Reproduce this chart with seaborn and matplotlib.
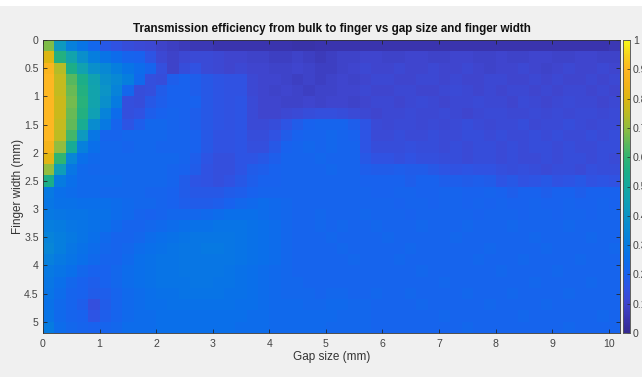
import numpy as np
import matplotlib
matplotlib.use("Agg")
import matplotlib.pyplot as plt
from matplotlib.colors import LinearSegmentedColormap
from matplotlib.patches import Rectangle
import seaborn as sns

# ---------------- data (transmission efficiency, percent) ----------------
gap_step_mm = 0.2          # width of one gap-size cell
finger_step_mm = 0.2       # height of one finger-width cell
x_ticks_mm = [0, 1, 2, 3, 4, 5, 6, 7, 8, 9, 10]
y_ticks_mm = [0, 0.5, 1, 1.5, 2, 2.5, 3, 3.5, 4, 4.5, 5]
cbar_ticks = [0, 0.1, 0.2, 0.3, 0.4, 0.5, 0.6, 0.7, 0.8, 0.9, 1]

efficiency_pct = [
    [68,42,32,27,22,17,15,13,12,11, 9,8,7,6,6,5,5,5,5,5, 5,5,4,4,5,5,5,5,5,5, 5,5,5,5,5,5,5,5,5,5, 5,5,5,5,5,5,5,5,5,5,6],
    [80,57,47,38,31,27,24,21,20,16, 11,9,11,12,12,11,10,10,9,9, 8,8,9,8,7,8,9,9,10,10, 9,9,10,10,9,9,10,10,9,9, 10,9,9,10,10,9,9,10,10,9,9],
    [88,74,55,46,38,35,31,27,24,21, 14,9,13,15,12,11,10,11,10,10, 9,9,10,9,8,8,9,10,11,10, 10,11,10,10,11,10,10,11,10,9, 10,10,11,10,9,10,11,10,10,11,10],
    [90,76,64,55,46,38,35,31,23,14, 13,19,20,19,17,16,15,15,11,10, 10,9,8,9,8,9,10,9,10,11, 11,10,10,11,11,10,11,10,10,11, 11,10,10,11,10,11,10,10,11,10,11],
    [90,76,66,57,47,40,33,22,13,14, 18,20,20,19,17,16,15,15,11,10, 9,10,9,8,9,9,10,10,11,10, 10,11,11,10,10,11,12,11,10,11, 10,11,11,10,11,10,11,11,10,11,10],
    [90,77,67,58,47,38,30,14,13,17, 19,20,20,20,17,16,15,16,12,10, 10,9,9,10,9,10,10,9,10,11, 11,10,11,12,11,10,11,11,12,11, 11,10,12,11,10,11,12,11,11,10,11],
    [90,77,66,57,45,33,24,14,15,19, 20,21,20,19,17,16,15,16,12,10, 10,11,12,13,14,14,13,12,11,10, 11,11,12,11,11,12,11,10,11,12, 12,11,11,12,11,12,11,12,12,11,12],
    [90,76,65,53,37,29,21,16,19,22, 22,21,20,19,17,16,15,16,12,12, 13,16,18,20,21,21,21,19,16,12, 11,12,12,11,12,11,12,13,12,11, 12,12,13,11,12,12,13,12,11,12,12],
    [90,75,62,42,28,21,21,22,22,22, 22,21,21,20,17,15,15,16,13,13, 15,18,20,21,21,22,21,20,16,12, 12,13,12,12,13,12,12,13,13,12, 13,12,12,13,12,13,12,12,13,12,13],
    [86,70,52,32,25,22,22,21,22,22, 21,21,21,20,17,15,15,16,14,14, 17,20,21,22,21,22,21,21,16,13, 13,13,14,13,13,12,13,12,13,13, 12,13,12,13,13,12,13,12,12,13,13],
    [81,60,34,25,23,22,22,22,22,22, 22,22,21,19,16,14,14,16,16,17, 19,21,21,21,22,21,21,21,17,15, 15,14,15,14,14,13,13,12,13,13, 12,13,12,12,13,12,13,13,12,13,12],
    [70,44,28,23,22,22,22,22,22,22, 22,21,20,18,15,14,14,16,18,19, 20,21,21,21,21,22,21,21,19,18, 18,19,18,18,17,16,15,16,15,15, 14,13,14,13,12,13,13,12,14,13,13],
    [55,30,25,23,23,23,23,22,22,22, 22,21,18,16,15,14,15,17,19,20, 20,21,21,21,21,21,21,21,20,20, 20,20,19,20,20,19,19,18,19,18, 16,17,15,16,17,15,16,17,15,16,15],
    [29,25,24,23,23,22,22,22,22,21, 21,20,18,17,17,17,18,19,20,21, 21,21,21,21,21,21,21,21,21,20, 20,21,21,20,20,21,21,20,20,21, 20,19,20,20,19,20,20,19,20,20,20],
    [28,26,26,25,25,25,24,23,22,22, 21,20,19,18,18,19,20,22,23,24, 23,22,21,21,21,21,21,21,21,21, 21,20,21,21,20,21,21,20,21,20, 21,20,20,21,20,20,21,20,20,21,20],
    [29,28,27,27,26,26,24,23,21,20, 21,22,22,22,23,24,25,25,25,24, 23,22,21,21,22,21,21,21,22,21, 21,21,20,21,21,21,21,21,20,21, 21,21,20,21,21,20,21,21,20,21,21],
    [31,30,28,27,26,25,23,21,21,22, 23,24,25,26,26,27,27,27,26,25, 24,22,21,21,22,21,22,21,21,22, 21,21,21,22,21,21,21,22,21,21, 21,22,21,21,21,21,22,21,21,21,21],
    [33,31,29,27,25,23,21,21,22,24, 25,26,27,28,28,28,28,27,26,25, 24,22,21,21,21,22,21,21,21,21, 22,21,21,21,21,21,22,21,21,21, 21,21,21,22,21,21,21,21,22,21,21],
    [34,31,28,26,24,22,21,22,24,25, 26,27,28,28,29,29,28,27,26,25, 24,22,21,21,21,21,22,21,21,21, 21,21,22,21,21,21,21,21,21,22, 21,21,21,21,22,21,21,21,21,21,22],
    [32,29,27,25,23,21,21,23,25,26, 27,27,28,28,28,28,28,27,26,25, 24,22,21,21,21,21,21,22,21,21, 21,22,21,21,21,21,21,21,22,21, 21,21,22,21,21,21,21,22,21,21,21],
    [29,27,25,22,20,20,22,24,25,26, 27,27,28,28,28,28,27,26,25,24, 23,22,21,21,21,21,21,21,21,21, 21,21,21,22,21,21,21,21,21,21, 22,21,21,21,21,22,21,21,21,21,21],
    [28,25,22,20,19,20,22,24,25,26, 27,27,27,28,28,27,27,26,25,24, 23,22,22,21,21,21,21,21,21,21, 21,21,21,21,21,22,21,21,21,21, 21,21,21,22,21,21,21,21,22,21,21],
    [27,24,21,20,18,19,21,23,24,25, 26,26,27,27,27,27,26,26,25,24, 23,22,22,22,21,22,22,21,21,22, 21,21,22,21,21,21,21,22,21,21, 21,22,21,21,21,21,22,21,21,21,21],
    [26,23,21,19,14,18,21,23,24,25, 25,26,26,26,26,26,26,25,25,24, 23,23,23,22,22,23,23,22,22,21, 21,21,21,22,21,21,21,21,21,22, 21,21,21,21,22,21,21,21,21,21,21],
    [27,23,21,20,16,19,21,23,24,24, 25,25,25,25,25,25,25,25,24,24, 23,23,23,23,23,23,22,22,22,21, 21,21,21,21,21,22,21,21,21,21, 21,21,22,21,21,21,21,21,21,22,21],
    [30,24,22,21,20,21,22,24,24,24, 25,25,25,25,25,25,25,24,24,24, 23,23,23,23,23,22,22,22,22,21, 21,21,21,21,21,21,21,22,21,21, 21,21,21,21,21,21,22,21,21,21,21],
]

# colour map sampled from the reference colour bar (MATLAB parula look)
cmap_positions = [0.00, 0.05, 0.10, 0.15, 0.20, 0.25, 0.30, 0.35, 0.40, 0.45, 0.50,
                  0.55, 0.60, 0.65, 0.70, 0.75, 0.80, 0.85, 0.90, 0.95, 1.00]
cmap_colors = ["#352a90", "#3a35b0", "#3f46cf", "#3052e2", "#1862ee", "#0a6fea",
               "#067ce0", "#0888d4", "#0c94c6", "#10a0b4", "#14a8a0", "#1cae88",
               "#30b472", "#60b95a", "#90bd40", "#bcbc22", "#dcb612", "#f2b318",
               "#fdb622", "#f7d21c", "#f9fa14"]

# ---------------- figure ----------------
plt.rcParams["font.family"] = ["Liberation Sans", "DejaVu Sans"]
W, H = 642, 377
fig = plt.figure(figsize=(W / 100, H / 100), dpi=100, facecolor="#f0f0f0")
fig.patches.append(Rectangle((0, 1 - 6 / H), 1, 6 / H, transform=fig.transFigure,
                             facecolor="white", edgecolor="none", zorder=-1))

ax = fig.add_axes([43 / W, 1 - 333 / H, (620 - 43) / W, (333 - 40) / H])
cax = fig.add_axes([623 / W, 1 - 333 / H, 7 / W, (333 - 40) / H])

cmap = LinearSegmentedColormap.from_list("parula_like", list(zip(cmap_positions, cmap_colors)))
data = np.array(efficiency_pct, dtype=float) / 100.0

sns.heatmap(data, ax=ax, cmap=cmap, vmin=0, vmax=1, cbar_ax=cax,
            xticklabels=False, yticklabels=False, rasterized=True)

tick_col = "#262626"
lab_col = "#444444"
ax.set_xticks([v / gap_step_mm for v in x_ticks_mm])
ax.set_xticklabels([f"{v:g}" for v in x_ticks_mm])
ax.set_yticks([v / finger_step_mm for v in y_ticks_mm])
ax.set_yticklabels([f"{v:g}" for v in y_ticks_mm])
for s in ax.spines.values():
    s.set_visible(True)
    s.set_color("#333333")
    s.set_linewidth(0.6)
ax.tick_params(axis="both", direction="in", length=3, width=0.6, color=tick_col,
               labelcolor=lab_col, labelsize=7.6, top=True, right=True,
               labeltop=False, labelright=False)
ax.tick_params(axis="x", pad=4)
ax.tick_params(axis="y", pad=3)

ax.set_xlabel("Gap size (mm)", fontsize=8.5, color="#333333")
ax.set_ylabel("Finger width (mm)", fontsize=8.5, color="#333333")
ax.xaxis.set_label_coords(0.5, (333 - 351) / 293)
ax.yaxis.set_label_coords((24 - 43) / 577, 0.5)
ax.set_title("Transmission efficiency from bulk to finger vs gap size and finger width",
             fontsize=8.4, fontweight="bold", color="#111111", pad=6)

cax.set_yticks(cbar_ticks)
cax.set_yticklabels([f"{v:g}" for v in cbar_ticks])
cax.tick_params(axis="y", direction="in", length=2, width=0.5, color=tick_col,
                labelcolor=lab_col, labelsize=7.6, pad=2)
for s in cax.spines.values():
    s.set_visible(True)
    s.set_color("#555555")
    s.set_linewidth(0.5)

fig.savefig("out.png", dpi=100, facecolor=fig.get_facecolor())
